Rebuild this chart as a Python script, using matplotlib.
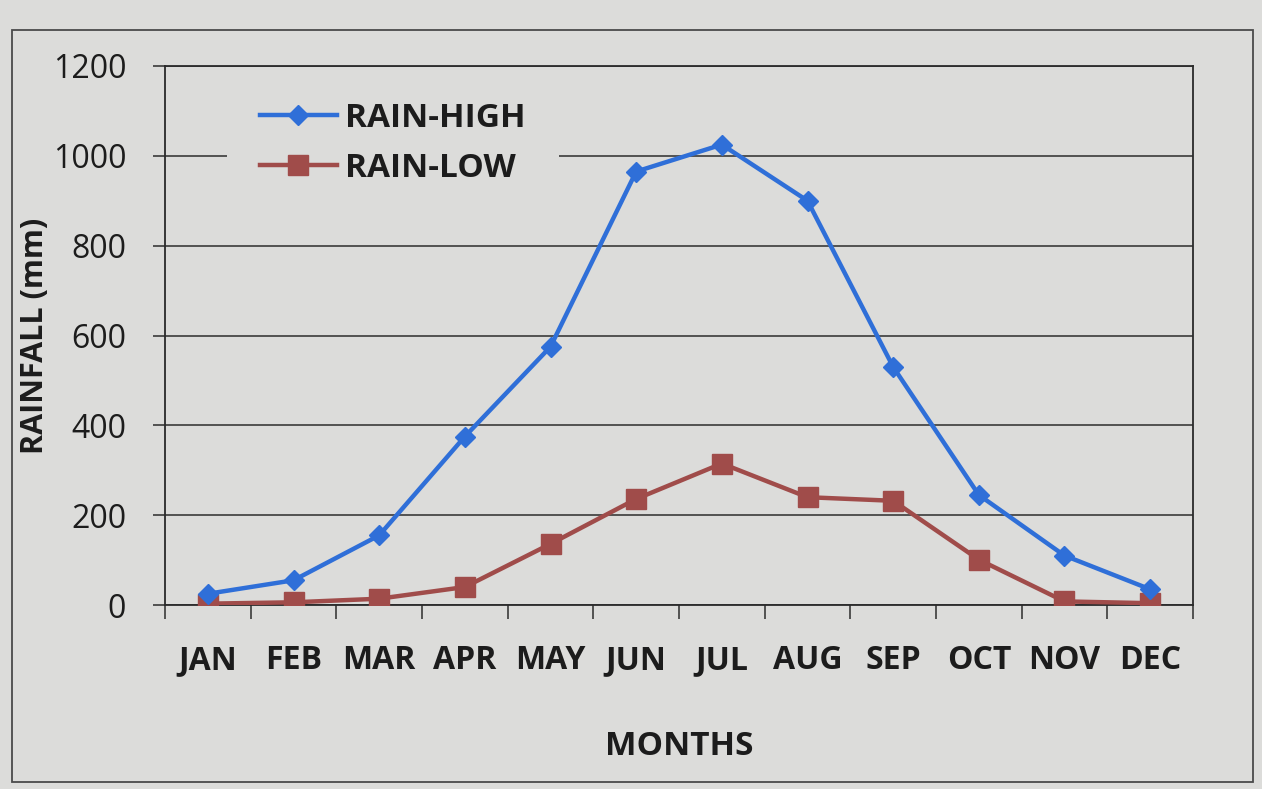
import matplotlib
matplotlib.use("Agg")
import matplotlib.pyplot as plt
from matplotlib.patches import Rectangle

months = ["JAN", "FEB", "MAR", "APR", "MAY", "JUN", "JUL", "AUG", "SEP", "OCT", "NOV", "DEC"]
rain_high = [25, 55, 155, 375, 575, 965, 1025, 900, 530, 245, 110, 35]
rain_low = [3, 6, 14, 40, 136, 236, 315, 240, 232, 101, 8, 4]
y_ticks = [0, 200, 400, 600, 800, 1000, 1200]

bg = "#dcdcda"
blue = "#2f6fd8"
red = "#a04c4a"
ink = "#1c1c1c"

W, H, DPI = 1262, 789, 100
fig = plt.figure(figsize=(W / DPI, H / DPI), dpi=DPI, facecolor=bg)

# chart frame
fig.patches.append(Rectangle((12 / W, 1 - 782 / H), (1253 - 12) / W, (782 - 30) / H,
                             transform=fig.transFigure, fill=False,
                             edgecolor="#4a4a4a", linewidth=1.3))

ax = fig.add_axes([165 / W, 1 - 605 / H, (1193 - 165) / W, (605 - 66) / H])
ax.set_facecolor(bg)

x = list(range(len(months)))
ax.plot(x, rain_high, color=blue, linewidth=3.2, marker="D", markersize=10,
        markerfacecolor=blue, markeredgecolor=blue, label="RAIN-HIGH", zorder=4)
ax.plot(x, rain_low, color=red, linewidth=3.2, marker="s", markersize=15,
        markerfacecolor=red, markeredgecolor=red, label="RAIN-LOW", zorder=3)

ax.set_xlim(-0.5, len(months) - 0.5)
ax.set_ylim(0, 1200)
ax.set_yticks(y_ticks)
ax.set_yticklabels([str(v) for v in y_ticks], fontsize=23, family="Open Sans", color=ink)
ax.yaxis.grid(True, color="#3a3a3a", linewidth=1.2, zorder=1)
ax.set_axisbelow(True)

ax.set_xticks(x)
ax.set_xticklabels(months, fontsize=23, family="Open Sans", fontweight="bold", color=ink)
ax.set_xticks([i - 0.5 for i in range(len(months) + 1)], minor=True)
ax.tick_params(axis="x", which="major", length=0, pad=28)
ax.tick_params(axis="x", which="minor", length=10, width=1.2, color="#3a3a3a", direction="out")
ax.tick_params(axis="y", which="major", length=9, width=1.2, color="#3a3a3a", pad=19)

for s in ax.spines.values():
    s.set_color("#2a2a2a")
    s.set_linewidth(1.3)

ax.set_xlabel("MONTHS", fontsize=24, family="Open Sans", fontweight="bold", color=ink, labelpad=38)
ax.set_ylabel("RAINFALL (mm)", fontsize=22, family="Open Sans", fontweight="bold", color=ink, labelpad=2)

leg = ax.legend(loc="upper left", bbox_to_anchor=(0.06, 0.995), frameon=True,
                facecolor=bg, edgecolor="none", framealpha=1.0,
                prop={"family": "Open Sans", "weight": "bold", "size": 24},
                handlelength=2.3, handletextpad=0.25, labelspacing=0.5,
                borderpad=1.0, borderaxespad=0.0)
for t in leg.get_texts():
    t.set_color(ink)

fig.savefig("out.png", dpi=DPI, facecolor=bg)
